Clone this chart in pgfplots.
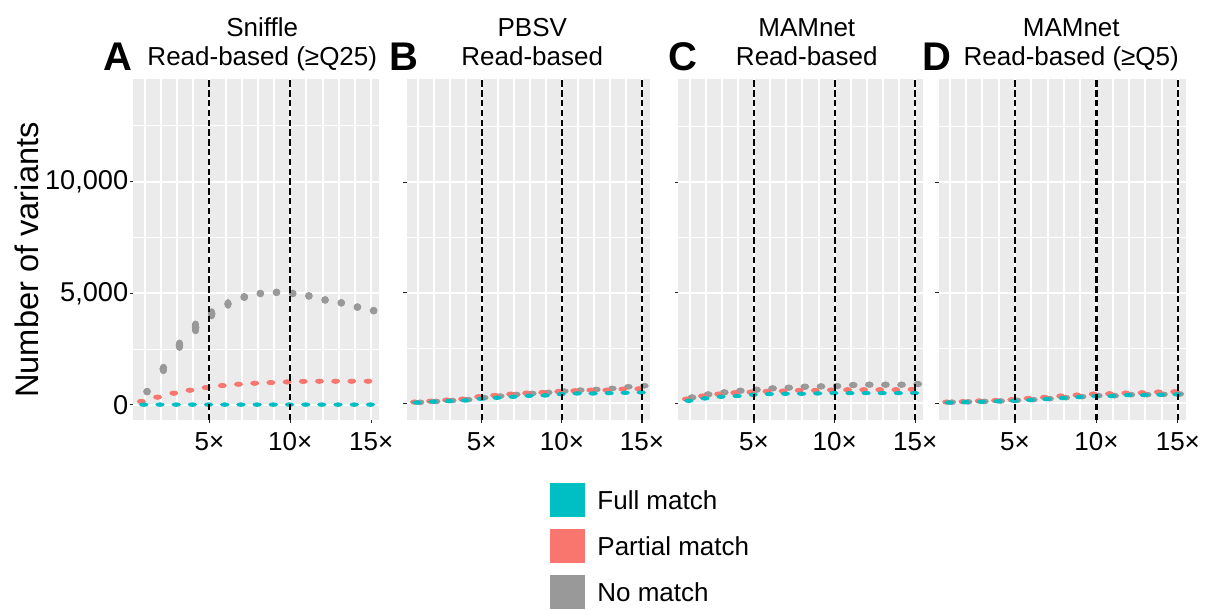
\documentclass[border=0pt]{standalone}
\usepackage{fontspec}
\setmainfont{Liberation Sans}
\usepackage{pgfplots}
\usepackage{pgfplotstable}
\pgfplotsset{compat=1.18}
\definecolor{ggbg}{HTML}{EBEBEB}
\definecolor{ggteal}{HTML}{00BFC4}
\definecolor{ggred}{HTML}{F8766D}
\definecolor{gggray}{HTML}{999999}

% Panel A: Sniffle read-based (>=Q25)
\pgfplotstableread{
x full partial none ep
1 10 150 594 0
2 10 343 1607 80
3 10 521 2670 100
4 10 655 3470 155
5 10 774 4080 95
6 10 863 4520 65
7 10 923 4830 25
8 10 967 4990 0
9 10 997 5040 0
10 10 1027 4990 0
11 10 1050 4880 0
12 10 1057 4700 0
13 10 1057 4570 0
14 10 1057 4380 0
15 10 1057 4220 0
}\tabA
% Panel B: PBSV read-based
\pgfplotstableread{
x full partial none
1 40 60 50
2 80 100 90
3 104 150 130
4 135 195 170
5 210 300 260
6 255 360 330
7 300 420 405
8 345 466 450
9 360 496 496
10 420 540 555
11 450 570 600
12 450 600 630
13 465 600 675
14 480 645 750
15 495 660 797
}\tabB
% Panel C: MAMnet read-based
\pgfplotstableread{
x full partial none
1 120 196 270
2 227 333 407
3 302 422 498
4 333 483 573
5 392 513 618
6 422 543 679
7 437 558 709
8 437 588 754
9 452 588 769
10 467 603 784
11 467 618 830
12 467 618 845
13 467 618 845
14 467 618 845
15 467 633 875
}\tabC
% Panel D: MAMnet read-based (>=Q5)
\pgfplotstableread{
x full partial none
1 40 60 55
2 55 80 70
3 75 110 90
4 95 130 110
5 120 166 140
6 150 226 170
7 196 271 215
8 241 333 260
9 286 377 305
10 331 422 350
11 331 437 350
12 377 467 395
13 377 482 395
14 392 513 410
15 407 528 425
}\tabD

\newcommand{\fs}{\fontsize{13}{15}\selectfont}

\tikzset{ggv/.style={black, line width=1.1pt, dash pattern=on 3.2pt off 1.7pt}}

\pgfplotsset{
  ggpanel/.style={
    scale only axis, height=170.5pt, anchor=north west,
    xmin=0.3, xmax=15.5, clip mode=individual,
    scaled y ticks=false,
    axis background/.style={fill=ggbg},
    axis line style={draw=none},
    xtick={5,10,15}, xticklabels={5×,10×,15×},
    minor xtick={1,...,15},
    ytick={0,5000,10000}, minor ytick={2500,7500,12500},
    grid=both,
    major grid style={white, line width=1pt},
    minor x grid style={white, line width=1pt},
    minor y grid style={white, line width=0.5pt},
    tick style={color=black!85, line width=0.6pt},
    major tick length=1.6pt, minor tick length=0pt,
    tick align=outside,
    xtick pos=bottom, ytick pos=left,
    xticklabel style={font=\fs, yshift=-1pt},
    yticklabel style={font=\fontsize{13.6}{15}\selectfont, xshift=2.6pt},
  },
  graymarks/.style={only marks, mark=*, mark size=1.7pt, color=gggray},
  redmarks/.style={only marks, mark=*, mark size=1.1pt, color=ggred, every mark/.append style={xscale=1.8}},
  tealmarks/.style={only marks, mark=*, mark size=0.9pt, color=ggteal, every mark/.append style={xscale=2.3}},
}

\newcommand{\ggvline}[1]{\draw[ggv] ({axis cs:#1,0}|-{rel axis cs:0,0}) -- ({axis cs:#1,0}|-{rel axis cs:0,1});}
\newcommand{\ggtitle}[3]{%
  \node[anchor=base, font=\fs, inner sep=0pt] at ([xshift=#3, yshift=21.15pt]rel axis cs:0.5,1) {#1};
  \node[anchor=base, font=\fs, inner sep=0pt] at ([xshift=#3, yshift=6.75pt]rel axis cs:0.5,1) {#2};}

\begin{document}
\begin{tikzpicture}
\path[use as bounding box] (0,0) rectangle (607.5pt,-305pt);

% Panel A
\begin{axis}[ggpanel, at={(66.65pt,-39.5pt)}, width=123pt,
  ymin=-680, ymax=14600, yticklabels={0,{5,000},{10,000}}]
  \addplot[graymarks, error bars/.cd, y dir=both, y explicit, error mark=none,
    error bar style={line width=3.4pt, line cap=round, gggray}]
    table[x expr=\thisrow{x}+0.15, y=none, y error=ep]{\tabA};
  \addplot[redmarks] table[x expr=\thisrow{x}-0.2, y=partial]{\tabA};
  \addplot[tealmarks] table[x expr=\thisrow{x}-0.05, y=full]{\tabA};
  \ggvline{5}\ggvline{10}
  \ggtitle{Sniffle}{Read-based (≥Q25)}{3pt}
\end{axis}

% Panel B
\begin{axis}[ggpanel, at={(203.25pt,-39.5pt)}, width=121.75pt,
  ymin=-750, ymax=14660, yticklabels={}]
  \addplot[graymarks, mark size=1.2pt, every mark/.append style={xscale=1.6}] table[x expr=\thisrow{x}+0.15, y=none]{\tabB};
  \addplot[redmarks] table[x expr=\thisrow{x}-0.2, y=partial]{\tabB};
  \addplot[tealmarks] table[x expr=\thisrow{x}-0.05, y=full]{\tabB};
  \ggvline{5}\ggvline{10}\ggvline{15}
  \ggtitle{PBSV}{Read-based}{2pt}
\end{axis}

% Panel C
\begin{axis}[ggpanel, at={(339.15pt,-39.5pt)}, width=122.5pt,
  ymin=-750, ymax=14660, yticklabels={}]
  \addplot[graymarks, mark size=1.4pt, every mark/.append style={xscale=1.4}] table[x expr=\thisrow{x}+0.15, y=none]{\tabC};
  \addplot[redmarks] table[x expr=\thisrow{x}-0.2, y=partial]{\tabC};
  \addplot[tealmarks] table[x expr=\thisrow{x}-0.05, y=full]{\tabC};
  \ggvline{5}\ggvline{10}\ggvline{15}
  \ggtitle{MAMnet}{Read-based}{3pt}
\end{axis}

% Panel D
\begin{axis}[ggpanel, at={(469.25pt,-39.5pt)}, width=123.75pt,
  ymin=-750, ymax=14660, yticklabels={}]
  \addplot[graymarks, mark size=1.2pt, every mark/.append style={xscale=1.6}] table[x expr=\thisrow{x}+0.12, y=none]{\tabD};
  \addplot[redmarks] table[x expr=\thisrow{x}-0.2, y=partial]{\tabD};
  \addplot[tealmarks] table[x expr=\thisrow{x}-0.05, y=full]{\tabD};
  \ggvline{5}\ggvline{10}\ggvline{15}
  \ggtitle{MAMnet}{Read-based (≥Q5)}{4.5pt}
\end{axis}

% panel letters
\node[anchor=base west, inner sep=0pt, font=\bfseries\fontsize{20}{24}\selectfont] at (51.5pt,-35.3pt) {A};
\node[anchor=base west, inner sep=0pt, font=\bfseries\fontsize{20}{24}\selectfont] at (194.5pt,-35.3pt) {B};
\node[anchor=base west, inner sep=0pt, font=\bfseries\fontsize{20}{24}\selectfont] at (334pt,-35.3pt) {C};
\node[anchor=base west, inner sep=0pt, font=\bfseries\fontsize{20}{24}\selectfont] at (460.8pt,-35.3pt) {D};

% y label
\node[rotate=90, inner sep=0pt, font=\fontsize{16.3}{19}\selectfont] at (13.5pt,-130pt) {Number of variants};

% legend
\fill[ggteal] (275pt,-241.5pt) rectangle (292.5pt,-258.5pt);
\fill[ggred]  (275pt,-264.5pt) rectangle (292.5pt,-281.5pt);
\fill[gggray] (275pt,-287.5pt) rectangle (292.5pt,-304.5pt);
\node[anchor=west, inner sep=0pt, font=\fs] at (298.5pt,-250pt) {Full match};
\node[anchor=west, inner sep=0pt, font=\fs] at (298.5pt,-273pt) {Partial match};
\node[anchor=west, inner sep=0pt, font=\fs] at (298.5pt,-296pt) {No match};
\end{tikzpicture}
\end{document}
